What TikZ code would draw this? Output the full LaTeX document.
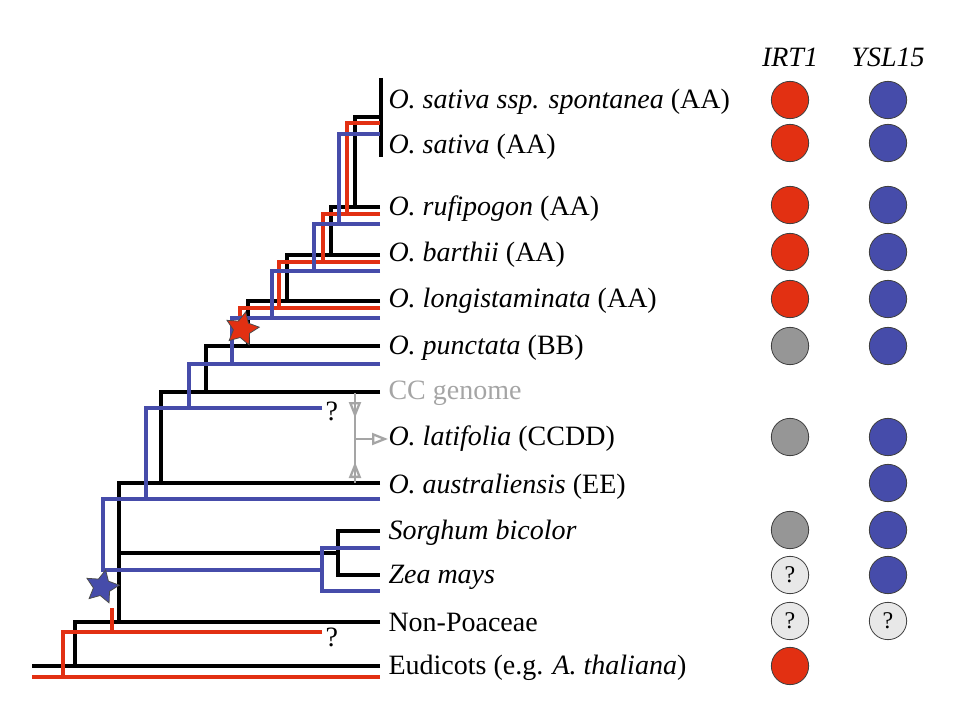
\documentclass[tikz,border=0pt]{standalone}
\usepackage{fontspec}
\setmainfont{Liberation Serif}
\usetikzlibrary{arrows.meta,shapes.geometric}

\definecolor{irtred}{RGB}{226,48,18}
\definecolor{yslblue}{RGB}{70,76,170}
\definecolor{lossgray}{RGB}{150,150,150}
\definecolor{unkgray}{RGB}{232,232,232}
\definecolor{ccgray}{RGB}{165,165,165}

\tikzset{every picture/.style={line width=0.75pt}}

\begin{document}
\begin{tikzpicture}[x=0.75pt,y=0.75pt,yscale=-1,xscale=1,
  blackline/.style={draw=black,line width=2.3pt},
  redline/.style={draw=irtred,line width=2.3pt},
  blueline/.style={draw=yslblue,line width=2.3pt},
  taxon/.style={anchor=west,inner sep=0pt,font=\fontsize{21}{25}\selectfont},
  head/.style={inner sep=0pt,font=\fontsize{21}{25}\selectfont\itshape},
  dot/.style={circle,minimum size=28pt,inner sep=0pt,draw=black!75,line width=0.6pt,font=\fontsize{18}{21}\selectfont},
  present/.style={dot,fill=irtred},
  ysl/.style={dot,fill=yslblue},
  lost/.style={dot,fill=lossgray},
  unknown/.style={dot,fill=unkgray},
  evstar/.style={star,star points=5,star point ratio=2,minimum size=26pt,inner sep=0pt,draw=black!70,line width=0.6pt},
  mixarrow/.style={draw=ccgray,line width=1.7pt},
  mixtip/.style={mixarrow,-{Triangle[open,length=12pt,width=9pt]}}
]
\path[use as bounding box] (0,0) rectangle (960,720);

%Taxa
\node[taxon] (spon) at (388,102) {\textit{O. sativa ssp. spontanea} (AA)};
\node[taxon] (sat) at (388,147) {\textit{O. sativa} (AA)};
\node[taxon] (ruf) at (388,209) {\textit{O. rufipogon} (AA)};
\node[taxon] (bar) at (388,255) {\textit{O. barthii} (AA)};
\node[taxon] (lon) at (388,301) {\textit{O. longistaminata} (AA)};
\node[taxon] (pun) at (388,348) {\textit{O. punctata} (BB)};
\node[taxon,text=ccgray] (ccg) at (388,393) {CC genome};
\node[taxon] (lat) at (388,439) {\textit{O. latifolia} (CCDD)};
\node[taxon] (aus) at (388,487) {\textit{O. australiensis} (EE)};
\node[taxon] (sor) at (388,533) {\textit{Sorghum bicolor}};
\node[taxon] (zea) at (388,577) {\textit{Zea mays}};
\node[taxon] (nonp) at (388,622) {Non-Poaceae};
\node[taxon] (eud) at (388,668) {Eudicots (e.g. \textit{A. thaliana})};

%Black tree
\draw[blackline,line width=3.2pt] (381,78) -- (381,157);
\draw[blackline] (380,117) -- (355,117) -- (355,207);
\draw[blackline] (380,207) -- (331,207) -- (331,255);
\draw[blackline] (380,255) -- (287,255) -- (287,301);
\draw[blackline] (380,301) -- (248,301) -- (248,346);
\draw[blackline] (380,346) -- (206,346) -- (206,392);
\draw[blackline] (380,392) -- (161,392) -- (161,483);
\draw[blackline] (380,483) -- (119,483) -- (119,622);
\draw[blackline] (119,553) -- (338,553);
\draw[blackline] (380,531) -- (338,531) -- (338,575) -- (380,575);
\draw[blackline] (380,622) -- (75,622) -- (75,666);
\draw[blackline] (380,666) -- (32,666);

%Red tree (IRT1)
\draw[redline] (380,123) -- (347,123) -- (347,214);
\draw[redline] (380,214) -- (323,214) -- (323,262);
\draw[redline] (380,262) -- (279,262) -- (279,308);
\draw[redline] (380,308) -- (240,308) -- (240,326);
\draw[redline] (322,632) -- (63,632) -- (63,677);
\draw[redline] (112,608) -- (112,632);
\draw[redline] (380,677) -- (32,677);

%Blue tree (YSL15)
\draw[blueline] (380,134) -- (339,134) -- (339,224);
\draw[blueline] (380,224) -- (314,224) -- (314,271);
\draw[blueline] (380,271) -- (272,271) -- (272,318);
\draw[blueline] (380,318) -- (232,318) -- (232,364);
\draw[blueline] (380,364) -- (189,364) -- (189,408);
\draw[blueline] (322,408) -- (146,408) -- (146,499);
\draw[blueline] (380,499) -- (103,499) -- (103,570) -- (322,570);
\draw[blueline] (380,548) -- (322,548) -- (322,591) -- (380,591);

%Unresolved tips
\node[taxon] (qblue) at (325,411) {?};
\node[taxon] (qred) at (325,637) {?};

%Stars
\node[evstar,fill=irtred,rotate=-12] (redstar) at (242,329) {};
\node[evstar,fill=yslblue,rotate=-12] (bluestar) at (102,587) {};

%Allopolyploid origin of latifolia
\coordinate (cctop) at (355,393);
\coordinate (ccbot) at (355,483);
\coordinate (ccmid) at (355,439);
\draw[mixarrow] (cctop) -- (ccbot);
\draw[mixtip] (cctop) -- (355,418);
\draw[mixtip] (ccbot) -- (355,462);
\draw[mixtip] (ccmid) -- (lat.west);

%Gene columns
\node[head] (irt) at (790,57) {IRT1};
\node[head] (ysl15) at (888,57) {YSL15};

\foreach \y/\s in {100/present,143/present,205/present,252/present,299/present,346/lost,437/lost,530/lost,575/unknown,621/unknown,666/present}
  \node[\s] (irt-\y) at (790,\y) {};
\foreach \y/\s in {100/ysl,143/ysl,205/ysl,252/ysl,299/ysl,346/ysl,437/ysl,483/ysl,530/ysl,575/ysl,621/unknown}
  \node[\s] (ysl-\y) at (888,\y) {};

\node[font=\fontsize{18}{21}\selectfont] at (irt-575) {?};
\node[font=\fontsize{18}{21}\selectfont] at (irt-621) {?};
\node[font=\fontsize{18}{21}\selectfont] at (ysl-621) {?};

\end{tikzpicture}
\end{document}
